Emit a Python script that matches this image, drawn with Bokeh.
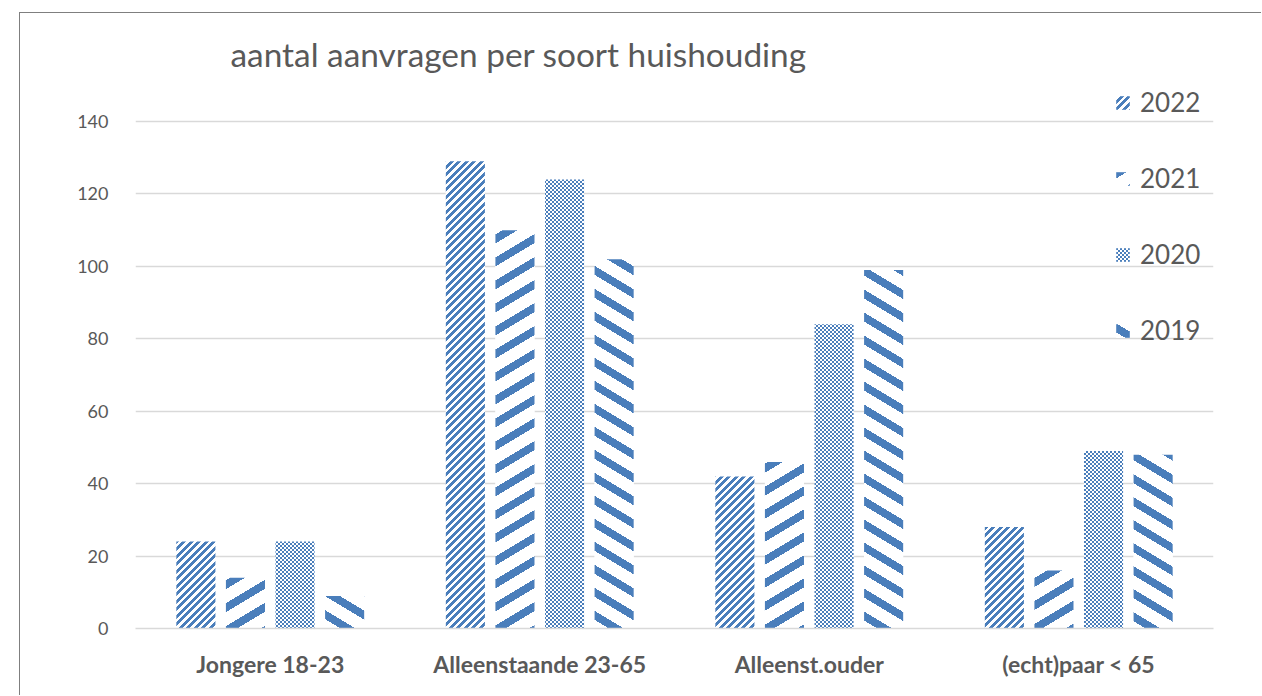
import base64
import struct
import zlib

from bokeh.plotting import figure
from bokeh.models import ColumnDataSource, FactorRange, Range1d, FixedTicker, Legend, LegendItem, Label
from bokeh.models.textures import ImageURLTexture
from bokeh.core.properties import value
from bokeh.transform import dodge
from bokeh.embed import file_html
from bokeh.resources import INLINE

title_text = "aantal aanvragen per soort huishouding"
categories = ["Jongere 18-23", "Alleenstaande 23-65", "Alleenst.ouder", "(echt)paar < 65"]
years = ["2022", "2021", "2020", "2019"]
v2022 = [24, 129, 42, 28]
v2021 = [14, 110, 46, 16]
v2020 = [24, 124, 84, 49]
v2019 = [9, 102, 99, 48]
y_ticks = [0, 20, 40, 60, 80, 100, 120, 140]

FONT = "Lato"
TXT = "#595959"
BLUE_RGBA = (74, 126, 187, 255)
WHITE_RGBA = (255, 255, 255, 255)


def _chunk(tag, data):
    return struct.pack(">I", len(data)) + tag + data + struct.pack(">I", zlib.crc32(tag + data) & 0xffffffff)


def png_uri(size, is_blue):
    rows = []
    for y in range(size):
        row = bytearray(b"\x00")
        for x in range(size):
            row.extend(BLUE_RGBA if is_blue(x, y) else WHITE_RGBA)
        rows.append(bytes(row))
    raw = b"".join(rows)
    png = (b"\x89PNG\r\n\x1a\n"
           + _chunk(b"IHDR", struct.pack(">IIBBBBB", size, size, 8, 6, 0, 0, 0))
           + _chunk(b"IDAT", zlib.compress(raw))
           + _chunk(b"IEND", b""))
    return "data:image/png;base64," + base64.b64encode(png).decode("ascii")


def stripes(s, p, q, t, mirror=False):
    if mirror:
        return lambda x, y: ((q * y - p * x) % s) < t
    return lambda x, y: ((p * x + q * y) % s) < t


def checker(x, y):
    hole = (x == 6 and y == 4) or (x == 0 and y == 10)
    return ((x // 2 + y // 2) % 2 == 0) and not hole


textures = {
    "p2022": ImageURLTexture(url=png_uri(15, stripes(15, 2, 2, 7.5))),
    "p2021": ImageURLTexture(url=png_uri(115, stripes(115, 3, 5, 45))),
    "p2020": ImageURLTexture(url=png_uri(12, checker)),
    "p2019": ImageURLTexture(url=png_uri(115, stripes(115, 3, 5, 45, mirror=True))),
}

src = ColumnDataSource(dict(cat=categories, y2022=v2022, y2021=v2021, y2020=v2020, y2019=v2019))

p = figure(x_range=FactorRange(factors=categories, range_padding=0),
           y_range=Range1d(0, 167.9),
           width=1242, height=683,
           output_backend="svg", toolbar_location=None,
           min_border_left=115, min_border_right=49, min_border_top=7, min_border_bottom=68)
p.styles = {"margin-left": "19px", "margin-top": "12px",
            "border-left": "1px solid #7f7f7f", "border-top": "1px solid #7f7f7f"}
p.outline_line_color = None
p.background_fill_color = "white"
p.border_fill_color = "white"

bars = [
    ("y2022", -0.276, "p2022"),
    ("y2021", -0.092, "p2021"),
    ("y2020", 0.092, "p2020"),
    ("y2019", 0.276, "p2019"),
]
renderers = []
for col, off, key in bars:
    r = p.vbar(x=dodge("cat", off, range=p.x_range), top=col, width=0.145, source=src,
               fill_color="white", line_color=None,
               hatch_pattern=value(key), hatch_extra={key: textures[key]})
    renderers.append(r)

p.xgrid.visible = False
p.ygrid.grid_line_color = "#d9d9d9"
p.ygrid.grid_line_width = 1.5

p.yaxis.ticker = FixedTicker(ticks=y_ticks)
p.yaxis.axis_line_color = None
p.yaxis.major_tick_line_color = None
p.yaxis.minor_tick_line_color = None
p.yaxis.major_label_text_font = FONT
p.yaxis.major_label_text_font_size = "18px"
p.yaxis.major_label_text_color = TXT
p.yaxis.major_label_standoff = 21

p.xaxis.axis_line_color = "#d9d9d9"
p.xaxis.axis_line_width = 1.5
p.xaxis.major_tick_line_color = None
p.xaxis.minor_tick_line_color = None
p.xaxis.major_label_text_font = FONT
p.xaxis.major_label_text_font_style = "bold"
p.xaxis.major_label_text_font_size = "23px"
p.xaxis.major_label_text_color = TXT
p.xaxis.major_label_standoff = 15

title = Label(x=95, y=575, x_units="screen", y_units="screen", text=title_text,
              text_font=FONT, text_font_size="33.4px", text_color=TXT, text_baseline="alphabetic")
p.add_layout(title)

legend = Legend(items=[LegendItem(label=yr, renderers=[r]) for yr, r in zip(years, renderers)],
                location=(979, 282), orientation="vertical",
                padding=0, margin=0, spacing=44, label_height=32,
                glyph_width=17, glyph_height=17, label_standoff=9,
                label_text_font=FONT, label_text_font_size="26px", label_text_color=TXT,
                border_line_color=None, background_fill_alpha=0)
p.add_layout(legend)

open("out.html", "w").write(file_html(p, INLINE))
